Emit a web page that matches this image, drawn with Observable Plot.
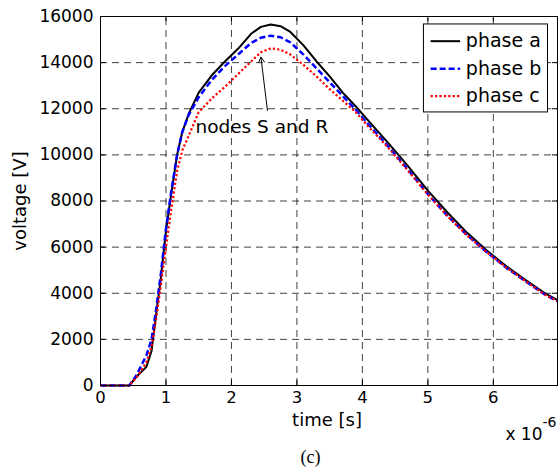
<!DOCTYPE html>
<html>
<head>
<meta charset="utf-8">
<script src="https://cdn.jsdelivr.net/npm/d3@7"></script>
<script src="https://cdn.jsdelivr.net/npm/@observablehq/plot@0.6"></script>
<style>
  html, body { margin: 0; padding: 0; background: white; }
</style>
</head>
<body>
<div id="chart"></div>
<script>
// time in microseconds (axis shows "x 10^-6" s)
const time   = [0, 0.44, 0.55, 0.62, 0.7, 0.78, 0.85, 0.92, 1.0, 1.08, 1.17, 1.25, 1.35, 1.5, 1.7, 1.9, 2.1, 2.3, 2.45, 2.6, 2.75, 2.9, 3.1, 3.3, 3.5, 3.7, 3.9, 4.1, 4.4, 4.7, 5.0, 5.3, 5.6, 5.9, 6.2, 6.5, 6.8, 6.98];
const phaseA = [0, 0, 380, 580, 800, 1500, 3100, 4600, 6700, 8300, 10000, 11000, 11800, 12700, 13450, 14050, 14600, 15250, 15550, 15650, 15580, 15330, 14750, 14050, 13400, 12700, 12100, 11450, 10500, 9500, 8450, 7500, 6620, 5850, 5170, 4560, 3980, 3700];
const phaseB = [0, 0, 450, 850, 1300, 2000, 3300, 4800, 6800, 8400, 10000, 11000, 11750, 12500, 13250, 13850, 14350, 14850, 15080, 15170, 15100, 14880, 14350, 13750, 13150, 12550, 11950, 11300, 10350, 9350, 8300, 7350, 6520, 5780, 5100, 4500, 3920, 3660];
const phaseC = [0, 0, 350, 650, 1000, 1700, 2900, 4300, 6000, 7600, 9300, 10200, 10850, 11850, 12450, 12950, 13500, 14050, 14450, 14620, 14560, 14350, 13900, 13400, 12850, 12350, 11850, 11200, 10300, 9300, 8280, 7340, 6500, 5780, 5110, 4510, 3920, 3670];

const seriesNames = ["phase a", "phase b", "phase c"];
const xTicks = [0, 1, 2, 3, 4, 5, 6];
const yTicks = [0, 2000, 4000, 6000, 8000, 10000, 12000, 14000, 16000];
const xLabel = "time [s]";
const yLabel = "voltage [V]";
const xExponent = "x 10";
const xExponentSup = "-6";
const annotation = "nodes S and R";
const caption = "(c)";

// styles (kept separate from data)
const styles = [
  {stroke: "#000000", strokeWidth: 2, strokeDasharray: null},
  {stroke: "#0000ff", strokeWidth: 2.5, strokeDasharray: "6,3"},
  {stroke: "#ff0000", strokeWidth: 2.2, strokeDasharray: "2.2,2.2"}
];

const seriesValues = [phaseA, phaseB, phaseC];
const tables = seriesValues.map((vals, s) => time.map((t, i) => ({t, v: vals[i], phase: seriesNames[s]})));

const xMax = 6.98, yMax = 16000;
const gridStyle = {stroke: "#000", strokeOpacity: 0.75, strokeWidth: 1, strokeDasharray: "7,5"};

// legend geometry (data coordinates)
const legX1 = 4.94, legX2 = 6.835, legTop = 15655, legBottom = 11840;
const legRowY = i => 14930 - i * 1192;

const marks = [
  Plot.ruleX(xTicks.filter(d => d > 0), {y1: 0, y2: yMax, ...gridStyle}),
  Plot.ruleY(yTicks.filter(d => d > 0 && d < yMax), {x1: 0, x2: xMax, ...gridStyle}),
  // inward ticks
  Plot.ruleX(xTicks, {y1: 0, y2: 220, stroke: "#000"}),
  Plot.ruleX(xTicks, {y1: yMax - 220, y2: yMax, stroke: "#000"}),
  Plot.ruleY(yTicks, {x1: 0, x2: 0.077, stroke: "#000"}),
  Plot.ruleY(yTicks, {x1: xMax - 0.077, x2: xMax, stroke: "#000"}),
  ...tables.map((tbl, s) => Plot.line(tbl, {x: "t", y: "v", ...styles[s], strokeLinejoin: "round", strokeLinecap: "butt"})),
  // annotation
  Plot.arrow([annotation], {x1: () => 2.55, y1: () => 11925, x2: () => 2.45, y2: () => 14235, stroke: "#000", strokeWidth: 1, headLength: 9, inset: 0}),
  Plot.text([annotation], {x: () => 1.45, y: () => 11190, text: d => d, textAnchor: "start", fontSize: 18.5}),
  // legend
  Plot.rect([0], {x1: () => legX1, x2: () => legX2, y1: () => legBottom, y2: () => legTop, fill: "white", stroke: "#000", strokeWidth: 1}),
  ...seriesNames.map((name, s) => Plot.ruleY([name], {y: () => legRowY(s), x1: () => 5.05, x2: () => 5.50, ...styles[s]})),
  Plot.text(seriesNames, {x: () => 5.58, y: (d, i) => legRowY(i), text: d => d, textAnchor: "start", fontSize: 19}),
  Plot.frame({stroke: "#000", strokeWidth: 1}),
  Plot.axisX(xTicks, {tickSize: 0, tickPadding: 6, fontSize: 16.5, label: null, tickFormat: d => String(d)}),
  Plot.axisY(yTicks, {tickSize: 0, tickPadding: 7, fontSize: 17, label: null, tickFormat: d => String(d)}),
  Plot.text([yLabel], {frameAnchor: "left", dx: -80, rotate: -90, text: d => d, fontSize: 18, textAnchor: "middle", lineAnchor: "middle"}),
  Plot.text([xLabel], {frameAnchor: "bottom", dx: -2, dy: 35, text: d => d, fontSize: 18, textAnchor: "middle", lineAnchor: "middle"}),
  Plot.text([xExponent], {frameAnchor: "bottom-right", dx: -15, dy: 49, text: d => d, fontSize: 17, textAnchor: "end", lineAnchor: "middle"}),
  Plot.text([xExponentSup], {frameAnchor: "bottom-right", dx: -15, dy: 37, text: d => d, fontSize: 14, textAnchor: "start", lineAnchor: "middle"}),
  Plot.text([caption], {frameAnchor: "bottom", dx: -18.5, dy: 72, text: d => d, fontSize: 18, fontFamily: "Liberation Serif", textAnchor: "middle", lineAnchor: "middle"})
];

const chart = Plot.plot({
  width: 559,
  height: 470,
  marginLeft: 100,
  marginRight: 2,
  marginTop: 16,
  marginBottom: 85,
  style: {fontFamily: "DejaVu Sans", fontSize: "17px", background: "white", color: "black", overflow: "visible"},
  x: {domain: [0, xMax]},
  y: {domain: [0, yMax]},
  marks
});
document.getElementById("chart").appendChild(chart);
</script>
</body>
</html>
